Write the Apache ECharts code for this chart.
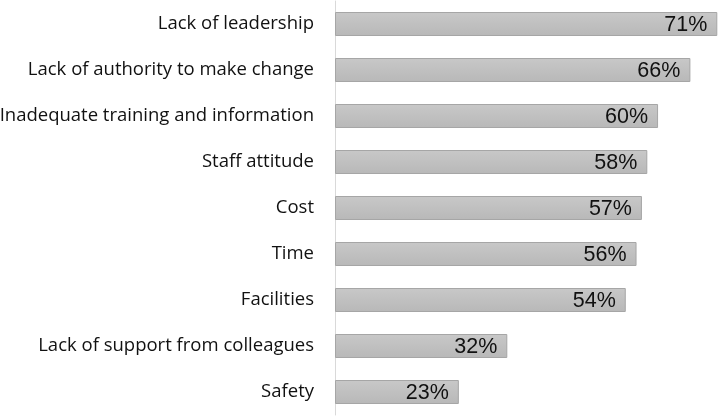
<!DOCTYPE html>
<html><head><meta charset="utf-8">
<script src="https://cdn.jsdelivr.net/npm/echarts@6/dist/echarts.min.js"></script>
<style>html,body{margin:0;padding:0;background:#fff}#c{width:720px;height:417px}</style>
</head><body><div id="c"></div>
<script>
const categories = ["Lack of leadership","Lack of authority to make change","Inadequate training and information","Staff attitude","Cost","Time","Facilities","Lack of support from colleagues","Safety"];
const values = [71,66,60,58,57,56,54,32,23];
const chart = echarts.init(document.getElementById('c'));
chart.setOption({
  animation:false,
  grid:{left:335,right:0,top:1,bottom:2,containLabel:false,outerBoundsMode:'none'},
  xAxis:{type:'value',min:0,max:71.5,show:false},
  yAxis:{type:'category',inverse:true,data:categories,
    axisLine:{show:true,lineStyle:{color:'#d9d9d9',width:1}},
    axisTick:{show:false},
    axisLabel:{margin:21,fontFamily:'Open Sans',fontSize:18.5,color:'#111'}},
  series:[{type:'bar',data:values,barWidth:24,
    itemStyle:{color:new echarts.graphic.LinearGradient(0,0,0,1,[{offset:0,color:'#c8c8c8'},{offset:0.5,color:'#c0c0c0'},{offset:1,color:'#b8b8b8'}]),borderColor:'#a6a6a6',borderWidth:1},
    label:{show:true,position:'insideRight',distance:10,offset:[0,1],formatter:'{c}%',fontFamily:'Liberation Sans',fontSize:21.5,color:'#111'}}]
});
</script></body></html>
